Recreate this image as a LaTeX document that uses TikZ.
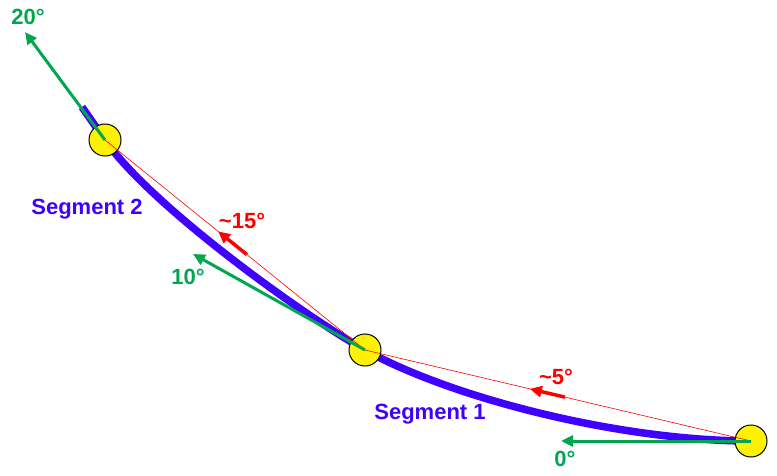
\documentclass[tikz,border=0pt]{standalone}
\usepackage{fontspec}
\setmainfont{Liberation Sans}
\usetikzlibrary{arrows.meta,calc}
\definecolor{segblue}{RGB}{64,0,255}
\definecolor{tangreen}{RGB}{0,166,80}

\begin{document}
\begin{tikzpicture}[x=1pt,y=-1pt,
	joint/.style={circle,draw=black,line width=1pt,fill=yellow,minimum size=32pt,inner sep=0pt},
	rod/.style={segblue,line width=7.5pt},
	chord/.style={red,line width=0.6pt},
	chordarrow/.style={red,line width=3.5pt,-{Triangle[length=12pt,width=11pt]}},
	tangent/.style={tangreen,line width=3pt,-{Triangle[length=12pt,width=11pt]}},
	lbl/.style={font=\bfseries\fontsize{22}{26}\selectfont,inner sep=0pt}]
	\useasboundingbox (0,0) rectangle (777,476);
	\coordinate (p1) at (105,140);
	\coordinate (p2) at (365,350);
	\coordinate (p3) at (751,441);
	% bent rod
	\draw[rod] (82,107) -- (p1) .. controls (151,206) and (304,316) .. (p2)
		.. controls (452.5,398.5) and (621,441) .. (p3);
	\node[joint] (n1) at (p1) {};
	\node[joint] (n2) at (p2) {};
	\node[joint] (n3) at (p3) {};
	% chords and their directions
	\draw[chord] (n3.center) -- (n2.center) -- (n1.center);
	\draw[chordarrow] ($(n3.center)!0.482!(n2.center)$) -- ($(n3.center)!0.573!(n2.center)$);
	\draw[chordarrow] ($(n2.center)!0.454!(n1.center)$) -- ($(n2.center)!0.565!(n1.center)$);
	\node[lbl,red] (d5) at (556,377) {\textasciitilde5°};
	\node[lbl,red] (d15) at (242,221) {\textasciitilde15°};
	% tangents
	\coordinate (t3) at (561,441);
	\coordinate (t2) at (193,254);
	\coordinate (t1) at (25,32);
	\draw[tangent] (n3.center) -- (t3);
	\draw[tangent] (n2.center) -- (t2);
	\draw[tangent] (n1.center) -- (t1);
	\node[lbl,tangreen] (a0) at (565,459) {0°};
	\node[lbl,tangreen] (a10) at (188,277) {10°};
	\node[lbl,tangreen] (a20) at (28,17) {20°};
	% segment names
	\node[lbl,segblue] (s2) at (87,209) {Segment 2};
	\node[lbl,segblue] (s1) at (430,414) {Segment 1};
\end{tikzpicture}
\end{document}
